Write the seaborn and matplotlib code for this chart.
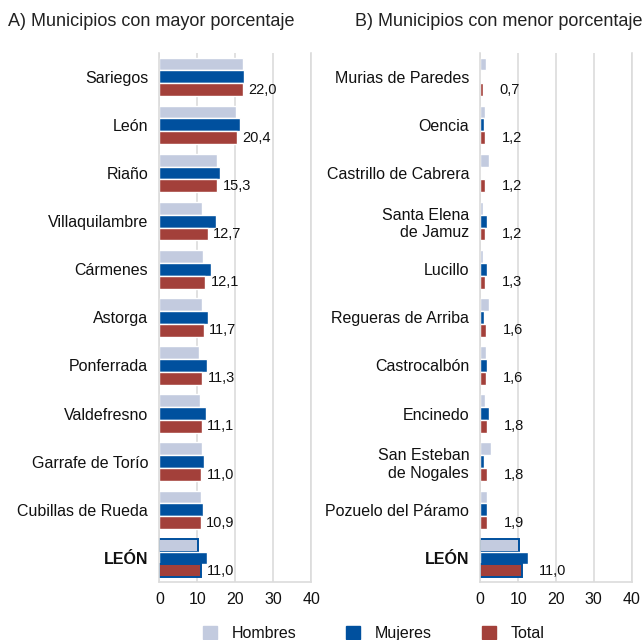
"""Municipios con mayor / menor porcentaje: barras horizontales por sexo."""

import matplotlib
matplotlib.use("Agg")
import matplotlib.pyplot as plt
import pandas as pd
import seaborn as sns

# --- data -------------------------------------------------------------
mayor_municipios = [
    "Sariegos", "León", "Riaño", "Villaquilambre", "Cármenes", "Astorga",
    "Ponferrada", "Valdefresno", "Garrafe de Torío", "Cubillas de Rueda", "LEÓN",
]
mayor_hombres = [22.1, 20.1, 15.3, 11.1, 11.4, 11.2, 10.5, 10.7, 11.1, 11.0, 10.1]
mayor_mujeres = [22.2, 21.2, 16.1, 14.9, 13.6, 12.8, 12.6, 12.3, 11.7, 11.5, 12.5]
mayor_total = [22.0, 20.4, 15.3, 12.7, 12.1, 11.7, 11.3, 11.1, 11.0, 10.9, 11.0]

menor_municipios = [
    "Murias de Paredes", "Oencia", "Castrillo de Cabrera", "Santa Elena\nde Jamuz",
    "Lucillo", "Regueras de Arriba", "Castrocalbón", "Encinedo",
    "San Esteban\nde Nogales", "Pozuelo del Páramo", "LEÓN",
]
menor_hombres = [1.5, 1.3, 2.3, 0.6, 0.8, 2.2, 1.5, 1.3, 2.8, 1.9, 10.1]
menor_mujeres = [0.2, 1.1, 0.2, 1.8, 1.7, 1.1, 1.8, 2.2, 1.1, 1.7, 12.5]
menor_total = [0.7, 1.2, 1.2, 1.2, 1.3, 1.6, 1.6, 1.8, 1.8, 1.9, 11.0]

series = ["Hombres", "Mujeres", "Total"]
palette = {"Hombres": "#c3cbdf", "Mujeres": "#00509e", "Total": "#a3403a"}
EDGE_BLUE = "#00509e"
GRID_GRAY = "#dcdcdc"


def long_df(municipios, hombres, mujeres, total):
    rows = []
    for name, h, m, t in zip(municipios, hombres, mujeres, total):
        rows.append({"municipio": name, "sexo": "Hombres", "valor": h})
        rows.append({"municipio": name, "sexo": "Mujeres", "valor": m})
        rows.append({"municipio": name, "sexo": "Total", "valor": t})
    return pd.DataFrame(rows)


def draw_panel(ax, municipios, hombres, mujeres, total, label_pad):
    df = long_df(municipios, hombres, mujeres, total)
    sns.barplot(
        data=df, y="municipio", x="valor", hue="sexo", hue_order=series,
        order=municipios, palette=palette, orient="h", width=0.8,
        saturation=1, legend=False, ax=ax,
    )
    # province total row gets a blue outline
    last = len(municipios) - 1
    for idx in (0, 2):
        bar = ax.containers[idx][last]
        bar.set_edgecolor(EDGE_BLUE)
        bar.set_linewidth(1.4)

    labels = [f"{v:.1f}".replace(".", ",") for v in total]
    ax.bar_label(ax.containers[2], labels=labels, padding=label_pad,
                 fontsize=10.5, color="#111111")

    ax.set_xlim(0, 40)
    ax.set_ylim(len(municipios) - 0.5, -0.5)
    ax.set_xticks([0, 10, 20, 30, 40])
    ax.set_xlabel("")
    ax.set_ylabel("")
    ax.grid(axis="x", color=GRID_GRAY, linewidth=1.2)
    ax.grid(axis="y", visible=False)
    ax.set_axisbelow(True)
    for side in ("left", "right", "bottom"):
        ax.spines[side].set_color(GRID_GRAY)
        ax.spines[side].set_linewidth(1.2)
    ax.spines["top"].set_visible(False)
    ax.tick_params(axis="both", length=0, labelsize=11.5, colors="#111111")
    ax.tick_params(axis="y", pad=8)
    ax.tick_params(axis="x", pad=7)
    for tick in ax.get_yticklabels():
        tick.set_horizontalalignment("right")
        if tick.get_text() == "LEÓN":
            tick.set_fontweight("bold")


sns.set_style("white")
plt.rcParams["font.family"] = ["Liberation Sans", "DejaVu Sans"]

fig = plt.figure(figsize=(6.44, 6.40), dpi=100)
ax_a = fig.add_axes([0.2474, 0.0906, 0.236, 0.827])
ax_b = fig.add_axes([0.7458, 0.0906, 0.235, 0.827])

draw_panel(ax_a, mayor_municipios, mayor_hombres, mayor_mujeres, mayor_total, 4)
draw_panel(ax_b, menor_municipios, menor_hombres, menor_mujeres, menor_total, 12)

fig.text(0.012, 0.967, "A) Municipios con mayor porcentaje", fontsize=13,
         va="center", ha="left", color="#222222")
fig.text(0.552, 0.967, "B) Municipios con menor porcentaje", fontsize=13,
         va="center", ha="left", color="#222222")

# legend drawn by hand so the three labels share one baseline
legend_x = [203, 346, 482]
for s, x in zip(series, legend_x):
    fig.patches.append(plt.Rectangle(
        (x / 644, 1 - 639 / 640), 13.5 / 644, 13.5 / 640,
        transform=fig.transFigure, color=palette[s],
    ))
    fig.text((x + 28.5) / 644, 1 - 638 / 640, s, fontsize=11.5,
             va="baseline", ha="left", color="#111111")

fig.savefig("out.png", dpi=100)
